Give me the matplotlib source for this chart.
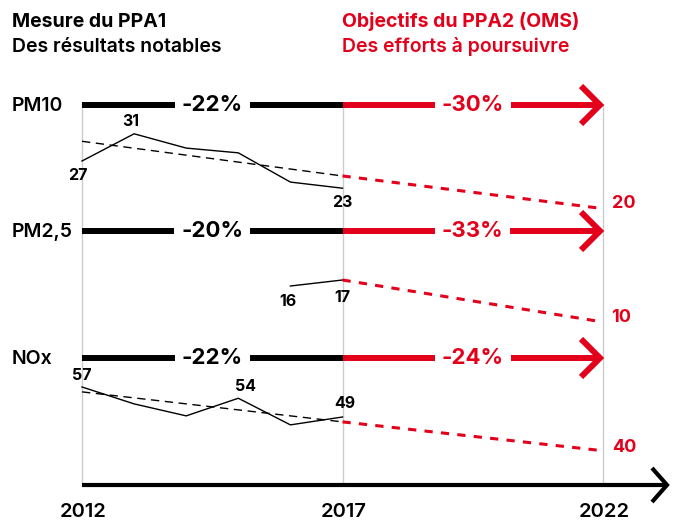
import numpy as np
import matplotlib.pyplot as plt

plt.rcParams['font.family'] = ['Inter', 'DejaVu Sans']

# data
years = np.arange(2012, 2018)
pm10 = [27, 31, 28.9, 28.2, 23.9, 23]
pm10_trend = [29.9, 24.8]          # trend line 2012 -> 2017
pm10_goal = 20                     # 2022
pm25_years = [2016, 2017]
pm25 = [16, 17]
pm25_goal = 10
nox = [57, 52.5, 49.3, 54, 46.9, 49]
nox_trend = [55.7, 47.7]
nox_goal = 40

rows = ['PM10', 'PM2,5', 'NOx']
past_change = ['-22%', '-20%', '-22%']
goal_change = ['-30%', '-33%', '-24%']
tick_years = [2012, 2017, 2022]

RED = '#e3001b'
W, H = 680, 521
PPY = 52.1                 # pixels per year
X0 = 2012 - 82 / PPY       # year at left edge of figure

def px(p):
    # horizontal pixel -> year
    return X0 + p / PPY

fig = plt.figure(figsize=(W / 100, H / 100), dpi=100)
ax = fig.add_axes([0, 0, 1, 1])
ax.set_xlim(X0, X0 + W / PPY)
ax.set_ylim(H, 0)
ax.axis('off')

def panel(ref_val, ref_px, ppu):
    a = fig.add_axes([0, 0, 1, 1], sharex=ax)
    a.set_ylim(ref_val - (H - ref_px) / ppu, ref_val + ref_px / ppu)
    a.axis('off')
    a.patch.set_alpha(0)
    return a

# headers
ax.text(px(12), 27, 'Mesure du PPA1', fontsize=14, fontweight='bold', va='baseline')
ax.text(px(12), 52, 'Des résultats notables', fontsize=14, fontweight='semibold', va='baseline')
ax.text(px(342), 27, 'Objectifs du PPA2 (OMS)', fontsize=14, fontweight='bold', va='baseline', color=RED)
ax.text(px(342), 52, 'Des efforts à poursuivre', fontsize=14, fontweight='semibold', va='baseline', color=RED)

# grid lines and time axis
for yr in tick_years:
    ax.plot([yr, yr], [104, 485], color='#cccccc', lw=1, zorder=0)
    ax.text(yr + 0.03, 517, str(yr), fontsize=14.5, fontweight='semibold', ha='center', va='baseline')
ax.plot([2012, px(666)], [485, 485], color='black', lw=3, solid_capstyle='butt')
ax.plot([px(652), px(667), px(652)], [468, 485, 502], color='black', lw=3,
        solid_joinstyle='miter', solid_capstyle='butt')

# rows: labels, bars and arrows
bar_y = [105, 231, 358]
for name, y, past, goal in zip(rows, bar_y, past_change, goal_change):
    ax.text(px(12), y + 1, name, fontsize=14, fontweight='semibold', va='center')
    ax.plot([2012, 2017], [y, y], color='black', lw=4.3, solid_capstyle='butt')
    ax.plot([2017, px(600)], [y, y], color=RED, lw=4.3, solid_capstyle='butt')
    ax.plot([px(581), px(600), px(581)], [y - 19, y, y + 19], color=RED, lw=4.3,
            solid_joinstyle='miter', solid_capstyle='butt')
    ax.text(2014.5, y, past, fontsize=16, fontweight='bold', ha='center', va='center',
            bbox=dict(fc='white', ec='none', pad=5))
    ax.text(2019.5, y, goal, fontsize=16, fontweight='bold', ha='center', va='center',
            color=RED, bbox=dict(fc='white', ec='none', pad=5))

def label(a, x, v, dx, dy, color='black', ha='center', size=11.5):
    a.annotate(f'{v:g}', (x, v), xytext=(dx, -dy), textcoords='offset pixels',
               ha=ha, va='center', fontsize=size, fontweight='bold', color=color)

dash_k = (6, 4)
dash_r = (2.7, 2.7)

# PM10
p = panel(27, 161, 6.8)
p.plot(years, pm10, color='black', lw=1)
p.plot([2012, 2017], pm10_trend, color='black', lw=1, dashes=dash_k)
p.plot([2017, 2022], [pm10_trend[1], pm10_goal], color=RED, lw=2.2, dashes=dash_r)
label(p, 2012, pm10[0], -4, 14)
label(p, 2013, pm10[1], -3, -12)
label(p, 2017, pm10[-1], 0, 14)
label(p, 2022, pm10_goal, 9, -5, RED, 'left', 13)

# PM2,5
p = panel(17, 280, 6.0)
p.plot(pm25_years, pm25, color='black', lw=1)
p.plot([2017, 2022], [pm25[-1], pm25_goal], color=RED, lw=2.2, dashes=dash_r)
label(p, 2016, pm25[0], -2, 15)
label(p, 2017, pm25[1], 0, 17)
label(p, 2022, pm25_goal, 8, -4, RED, 'left', 13)

# NOx
p = panel(57, 387, 3.75)
p.plot(years, nox, color='black', lw=1)
p.plot([2012, 2017], nox_trend, color='black', lw=1, dashes=dash_k)
p.plot([2017, 2022], [nox_trend[1], nox_goal], color=RED, lw=2.2, dashes=dash_r)
label(p, 2012, nox[0], 0, -11)
label(p, 2015, nox[3], 7, -12)
label(p, 2017, nox[-1], 2, -13)
label(p, 2022, nox_goal, 9, -3, RED, 'left', 13)

fig.savefig('out.png', dpi=100)
